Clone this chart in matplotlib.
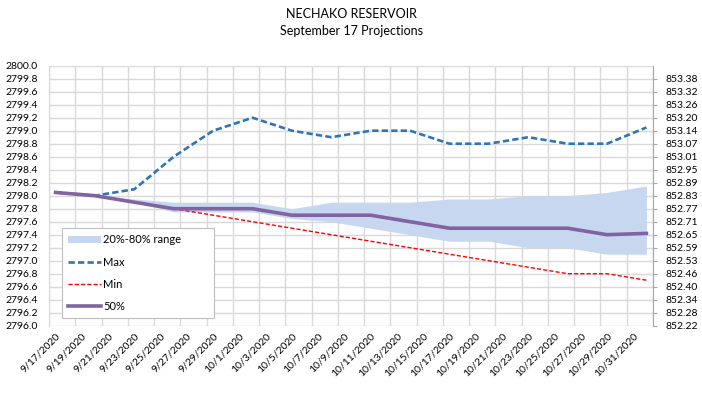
import matplotlib
matplotlib.use("Agg")
import matplotlib.pyplot as plt
from matplotlib.lines import Line2D
import numpy as np
import datetime as dt

plt.rcParams['font.family'] = ['Lato', 'DejaVu Sans']

# data: one point every 3 days from 9/17/2020 (day 0) to 11/1/2020 (day 45)
days = [0, 3, 6, 9, 12, 15, 18, 21, 24, 27, 30, 33, 36, 39, 42, 45]
max_ft = [2798.05, 2798.0, 2798.1, 2798.6, 2799.0, 2799.2, 2799.0, 2798.9,
          2799.0, 2799.0, 2798.8, 2798.8, 2798.9, 2798.8, 2798.8, 2799.05]
min_ft = [2798.05, 2798.0, 2797.9, 2797.8, 2797.7, 2797.6, 2797.5, 2797.4,
          2797.3, 2797.2, 2797.1, 2797.0, 2796.9, 2796.8, 2796.8, 2796.7]
p50_ft = [2798.05, 2798.0, 2797.9, 2797.8, 2797.8, 2797.8, 2797.7, 2797.7,
          2797.7, 2797.6, 2797.5, 2797.5, 2797.5, 2797.5, 2797.4, 2797.42]
p80_ft = [2798.05, 2798.0, 2797.95, 2797.9, 2797.9, 2797.9, 2797.8, 2797.9,
          2797.9, 2797.9, 2797.95, 2797.95, 2798.0, 2798.0, 2798.05, 2798.15]
p20_ft = [2798.05, 2798.0, 2797.9, 2797.75, 2797.75, 2797.75, 2797.65, 2797.6,
          2797.5, 2797.4, 2797.3, 2797.3, 2797.2, 2797.2, 2797.1, 2797.1]

start = dt.date(2020, 9, 17)
label_days = list(range(0, 45, 2))
tick_labels = [f"{d.month}/{d.day}/{d.year}" for d in
               (start + dt.timedelta(days=k) for k in label_days)]

fig = plt.figure(figsize=(7.02, 3.93), dpi=100)
ax = fig.add_axes([0.0698, 0.1712, 0.8604, 0.6616])

grid_c = '#d9d9d9'
for v in np.arange(2796.0, 2800.01, 0.2):
    ax.axhline(v, color=grid_c, lw=1.0, zorder=0)
for xv in np.arange(-0.5, 45.6, 2):
    ax.axvline(xv, color=grid_c, lw=1.0, zorder=0)

max_style = dict(color='#2e75b6', lw=1.9, ls=(0, (2.4, 1.2)))
min_style = dict(color='#ff0000', lw=1.0, ls=(0, (3, 1.5)))
p50_style = dict(color='#8064a2', lw=2.6)

band = ax.fill_between(days, p20_ft, p80_ft, color='#c6d7ef', lw=0, zorder=1)
ax.plot(days, max_ft, zorder=3, dash_joinstyle='round', **max_style)
ax.plot(days, min_ft, zorder=3, **min_style)
ax.plot(days, p50_ft, zorder=4, solid_joinstyle='round', **p50_style)

ax.set_xlim(-0.5, 45.5)
ax.set_ylim(2796.0, 2800.0)
ax.set_yticks(np.arange(2796.0, 2800.01, 0.2))
ax.set_yticklabels([f"{v:.1f}" for v in np.arange(2796.0, 2800.01, 0.2)],
                   fontsize=7.5)
ax.tick_params(axis='y', length=0, pad=8)
ax.set_xticks(label_days)
ax.set_xticklabels(tick_labels, rotation=45, ha='right',
                   rotation_mode='anchor', fontsize=7.5)
ax.tick_params(axis='x', length=0, pad=4)
for s in ['top', 'bottom', 'right']:
    ax.spines[s].set_visible(False)
ax.spines['left'].set_color(grid_c)

# secondary axis in metres
ax2 = ax.twinx()
ax2.set_ylim(2796.0, 2800.0)
rt = np.arange(2796.0, 2799.81, 0.2)
ax2.set_yticks(rt)
ax2.set_yticklabels([f"{v * 0.3048:.2f}" for v in rt], fontsize=7.5)
ax2.tick_params(axis='y', length=3, color='#a6a6a6', pad=6)
for s in ['top', 'bottom', 'left']:
    ax2.spines[s].set_visible(False)
ax2.spines['right'].set_color('#a6a6a6')

handles = [band,
           Line2D([], [], **max_style),
           Line2D([], [], **min_style),
           Line2D([], [], **p50_style)]
labels = ['20%-80% range', 'Max', 'Min', '50%']
leg = ax2.legend(handles, labels, loc='lower left',
                 bbox_to_anchor=(0.021, 0.03, 0.253, 0.34), mode='expand',
                 fontsize=8, handlelength=3.0, labelspacing=1.0,
                 borderpad=0.55, borderaxespad=0, fancybox=False, framealpha=1,
                 edgecolor='#bfbfbf', handletextpad=0.2, handleheight=0.6)
leg.get_frame().set_linewidth(0.8)

fig.text(0.5, 0.965, 'NECHAKO RESERVOIR', ha='center', va='center', fontsize=9)
fig.text(0.5, 0.92, 'September 17 Projections', ha='center', va='center',
         fontsize=9)

fig.savefig('out.png', dpi=100)
